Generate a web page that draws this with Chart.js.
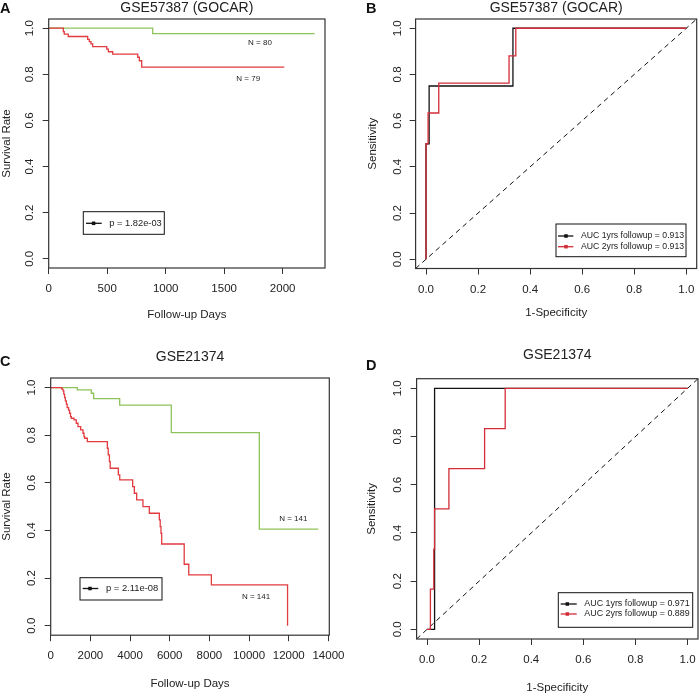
<!DOCTYPE html>
<html><head><meta charset="utf-8">
<script src="https://cdn.jsdelivr.net/npm/chart.js@4.4.1/dist/chart.umd.min.js"></script>
<style>
html,body{margin:0;padding:0;background:#fff;}
#wrap{position:relative;width:700px;height:695px;overflow:hidden;background:#fff;}
canvas{position:absolute;}
</style></head><body>
<div id="wrap">
<canvas id="cA" width="350" height="340" style="left:0;top:0"></canvas>
<canvas id="cB" width="350" height="340" style="left:350px;top:0"></canvas>
<canvas id="cC" width="350" height="355" style="left:0;top:340px"></canvas>
<canvas id="cD" width="350" height="355" style="left:350px;top:340px"></canvas>
</div>
<script>
// ---------- Data ----------
// Panel A: GSE57387 (GOCAR) Kaplan-Meier
const kmA_low_days  = [0, 889, 2273];
const kmA_low_surv  = [1, 0.977, 0.977];
const kmA_high_days = [0,125,133,167,333,347,361,376,496,510,547,761,775,795,2014];
const kmA_high_surv = [1,0.985,0.974,0.964,0.952,0.942,0.932,0.920,0.909,0.898,0.888,0.874,0.859,0.831,0.831];
const kmA_xTicks = [0,500,1000,1500,2000];
const kmA_labels = ['N = 80','N = 79'];
const kmA_pText = 'p = 1.82e-03';

// Panel B: GSE57387 (GOCAR) ROC
const rocB_1y_fpr = [0,0,0.012,0.334,1];
const rocB_1y_tpr = [0,0.5,0.75,1,1];
const rocB_2y_fpr = [0,0,0.008,0.049,0.319,0.345,1];
const rocB_2y_tpr = [0,0.5,0.633,0.762,0.880,1,1];
const rocB_legend = ['AUC 1yrs followup = 0.913','AUC 2yrs followup = 0.913'];

// Panel C: GSE21374 Kaplan-Meier
const kmC_low_days  = [0,1341,2047,2166,3478,6080,10517,13491];
const kmC_low_surv  = [1,0.990,0.976,0.953,0.926,0.811,0.405,0.405];
const kmC_high_days = [0,560,620,660,700,740,790,830,900,950,1000,1040,1175,1290,1376,1511,1628,1680,1712,1847,2855,2900,2960,3000,3409,3480,4132,4216,4334,4650,4971,5476,5520,5560,5595,6730,6960,8100,11940];
const kmC_high_surv = [1,0.993,0.986,0.972,0.958,0.944,0.930,0.916,0.905,0.892,0.878,0.871,0.864,0.850,0.836,0.822,0.808,0.794,0.787,0.773,0.745,0.717,0.689,0.661,0.633,0.612,0.584,0.556,0.528,0.500,0.472,0.444,0.416,0.388,0.343,0.258,0.213,0.171,0];
const kmC_xTicks = [0,2000,4000,6000,8000,10000,12000,14000];
const kmC_labels = ['N = 141','N = 141'];
const kmC_pText = 'p = 2.11e-08';

// Panel D: GSE21374 ROC
const rocD_1y_fpr = [0,0.029,1];
const rocD_1y_tpr = [0,1,1];
const rocD_2y_fpr = [0,0.013,0.026,0.029,0.084,0.221,0.300,1];
const rocD_2y_tpr = [0,0.167,0.333,0.5,0.667,0.833,1,1];
const rocD_legend = ['AUC 1yrs followup = 0.971','AUC 2yrs followup = 0.889'];

// shared
const survTicks = [0,0.2,0.4,0.6,0.8,1.0];
const rocTicks = [0,0.2,0.4,0.6,0.8,1.0];
const diagXY = [-0.04, 1.04];

// ---------- Styling ----------
const FONT = '"Liberation Sans", Arial, Helvetica, sans-serif';
Chart.defaults.font.family = FONT;
Chart.defaults.color = '#222';
const RED_KM = '#e23b40', GREEN_KM = '#8ec35a', RED_ROC = '#d22d38', BLACK = '#111';

const pts = (xs, ys) => xs.map((x, i) => ({x, y: ys[i]}));

const decor = {
  id: 'decor',
  afterDraw(chart, args, o) {
    const ctx = chart.ctx, a = chart.chartArea, ys = chart.scales.y, xs = chart.scales.x;
    ctx.save();
    ctx.strokeStyle = '#333'; ctx.lineWidth = 1.2;
    ctx.strokeRect(a.left, a.top, a.right - a.left, a.bottom - a.top);
    // rotated y tick labels (R style)
    ctx.fillStyle = '#222'; ctx.font = '11.5px ' + FONT;
    ctx.textAlign = 'center'; ctx.textBaseline = 'middle';
    ys.ticks.forEach(t => {
      const py = ys.getPixelForValue(t.value);
      ctx.save(); ctx.translate(a.left - o.yLabelOffset, py); ctx.rotate(-Math.PI / 2);
      ctx.fillText(t.value.toFixed(1), 0, 0); ctx.restore();
    });
    // panel letter
    ctx.font = 'bold 14.5px ' + FONT; ctx.textAlign = 'left'; ctx.textBaseline = 'alphabetic';
    ctx.fillStyle = '#111';
    ctx.fillText(o.letter, o.letterX, o.letterY);
    // notes in data coordinates
    if (o.notes) {
      ctx.font = '8px ' + FONT; ctx.textAlign = 'center'; ctx.textBaseline = 'middle'; ctx.fillStyle = '#222';
      o.notes.forEach(n => ctx.fillText(n.text, xs.getPixelForValue(n.x), ys.getPixelForValue(n.y)));
    }
    // legend box
    if (o.legend) {
      const L = o.legend;
      const rx = (L.anchor === 'right' ? a.right : a.left) + L.dx;
      const ry = a.bottom + L.dy;
      ctx.lineWidth = 1; ctx.strokeStyle = '#111';
      ctx.strokeRect(rx, ry, L.w, L.h);
      ctx.font = L.fontSize + 'px ' + FONT; ctx.textAlign = 'left'; ctx.textBaseline = 'middle';
      L.items.forEach((it, i) => {
        const yy = ry + L.row0 + i * L.rowGap;
        ctx.strokeStyle = it.color; ctx.lineWidth = 1.3;
        ctx.beginPath(); ctx.moveTo(rx + L.lx1, yy); ctx.lineTo(rx + L.lx2, yy); ctx.stroke();
        ctx.fillStyle = it.color; ctx.fillRect(rx + L.mx - 1.75, yy - 1.75, 3.5, 3.5);
        ctx.fillStyle = '#222'; ctx.fillText(it.label, rx + L.tx, yy);
      });
    }
    ctx.restore();
  }
};

function makePanel(id, cfg) {
  const c = document.getElementById(id);
  const W = c.width, H = c.height, A = cfg.area;
  const grid = {display: true, drawOnChartArea: false, drawTicks: true, tickLength: 6, color: '#333', lineWidth: 1};
  return new Chart(c, {
    type: 'line',
    data: {datasets: cfg.datasets},
    options: {
      responsive: false, animation: false, devicePixelRatio: 1,
      layout: {padding: {left: 0, top: 0, right: W - A.R, bottom: 0}},
      plugins: {
        legend: {display: false}, tooltip: {enabled: false},
        title: {display: true, text: cfg.title, fullSize: false, color: '#222',
                font: {size: 14, weight: 'normal', lineHeight: 1.2},
                padding: {top: cfg.titlePadTop, bottom: A.T - cfg.titlePadTop - 16.8}},
        decor: cfg.decor
      },
      scales: {
        x: {type: 'linear', min: cfg.xMin, max: cfg.xMax,
            afterBuildTicks: s => { s.ticks = cfg.xTicks.map(v => ({value: v})); },
            afterFit: s => { s.height = H - A.B; s.paddingLeft = 0; s.paddingRight = 0; },
            ticks: {callback: cfg.xFmt, font: {size: 11.5}, color: '#222', padding: 8, maxRotation: 0, minRotation: 0, autoSkip: false},
            grid: grid, border: {display: false},
            title: {display: true, text: cfg.xTitle, color: '#222', font: {size: 11.5, lineHeight: 1.2},
                    padding: {top: 0, bottom: cfg.xTitlePadBottom}}},
        y: {type: 'linear', min: -0.04, max: 1.04,
            afterBuildTicks: s => { s.ticks = cfg.yTicks.map(v => ({value: v})); },
            afterFit: s => { s.width = A.L; s.paddingTop = 0; s.paddingBottom = 0; },
            ticks: {display: false},
            grid: grid, border: {display: false},
            title: {display: true, text: cfg.yTitle, color: '#222', font: {size: 11.5, lineHeight: 1.2},
                    padding: {top: cfg.yTitlePad, bottom: 0}}}
      }
    },
    plugins: [decor]
  });
}

const lineDS = (data, color, order, extra) => Object.assign({
  data, borderColor: color, backgroundColor: color, borderWidth: 1.3, pointRadius: 0,
  stepped: 'before', fill: false, tension: 0, order
}, extra || {});
const diagDS = () => ({data: pts(diagXY, diagXY), borderColor: '#111', borderWidth: 1, borderDash: [5, 4],
  pointRadius: 0, fill: false, tension: 0, order: 5});

const kmFmt = v => String(v);
const rocFmt = v => v.toFixed(1);

makePanel('cA', {
  area: {L: 48.7, T: 19, R: 325, B: 268},
  title: 'GSE57387 (GOCAR)', titlePadTop: 0,
  xMin: 0, xMax: 2362, xTicks: kmA_xTicks, xFmt: kmFmt, yTicks: survTicks,
  xTitle: 'Follow-up Days', xTitlePadBottom: 18.4,
  yTitle: 'Survival Rate', yTitlePad: 0,
  datasets: [lineDS(pts(kmA_low_days, kmA_low_surv), GREEN_KM, 1), lineDS(pts(kmA_high_days, kmA_high_surv), RED_KM, 0)],
  decor: {letter: 'A', letterX: 0, letterY: 13, yLabelOffset: 19,
    notes: [{text: kmA_labels[0], x: 1806, y: 0.9375}, {text: kmA_labels[1], x: 1706, y: 0.78}],
    legend: {anchor: 'left', dx: 34.6, dy: -56.3, w: 81, h: 22.6, row0: 11.6, rowGap: 0,
             lx1: 2.7, lx2: 18.4, mx: 10.3, tx: 26, fontSize: 9.3,
             items: [{label: kmA_pText, color: BLACK}]}}
});

makePanel('cB', {
  area: {L: 65.6, T: 19, R: 346.7, B: 268.5},
  title: 'GSE57387 (GOCAR)', titlePadTop: 0,
  xMin: -0.04, xMax: 1.04, xTicks: rocTicks, xFmt: rocFmt, yTicks: rocTicks,
  xTitle: '1-Specificity', xTitlePadBottom: 19.8,
  yTitle: 'Sensitivity', yTitlePad: 15.6,
  datasets: [lineDS(pts(rocB_1y_fpr, rocB_1y_tpr), BLACK, 1), lineDS(pts(rocB_2y_fpr, rocB_2y_tpr), RED_ROC, 0), diagDS()],
  decor: {letter: 'B', letterX: 16, letterY: 13, yLabelOffset: 18,
    legend: {anchor: 'right', dx: -140.7, dy: -44.5, w: 130, h: 32.7, row0: 12, rowGap: 10.7,
             lx1: 2, lx2: 17.3, mx: 10, tx: 25, fontSize: 8.7,
             items: [{label: rocB_legend[0], color: BLACK}, {label: rocB_legend[1], color: RED_ROC}]}}
});

makePanel('cC', {
  area: {L: 50.7, T: 38, R: 329.3, B: 295.2},
  title: 'GSE21374', titlePadTop: 8.3,
  xMin: 0, xMax: 14044, xTicks: kmC_xTicks, xFmt: kmFmt, yTicks: survTicks,
  xTitle: 'Follow-up Days', xTitlePadBottom: 4.3,
  yTitle: 'Survival Rate', yTitlePad: 0,
  datasets: [lineDS(pts(kmC_low_days, kmC_low_surv), GREEN_KM, 1), lineDS(pts(kmC_high_days, kmC_high_surv), RED_KM, 0)],
  decor: {letter: 'C', letterX: 0, letterY: 25.5, yLabelOffset: 19,
    notes: [{text: kmC_labels[0], x: 12230, y: 0.448}, {text: kmC_labels[1], x: 10349, y: 0.122}],
    legend: {anchor: 'left', dx: 29.3, dy: -57.5, w: 82, h: 22.3, row0: 10.8, rowGap: 0,
             lx1: 2.7, lx2: 18.3, mx: 10, tx: 26, fontSize: 9.4,
             items: [{label: kmC_pText, color: BLACK}]}}
});

makePanel('cD', {
  area: {L: 66.6, T: 38.7, R: 348, B: 299},
  title: 'GSE21374', titlePadTop: 6.9,
  xMin: -0.04, xMax: 1.04, xTicks: rocTicks, xFmt: rocFmt, yTicks: rocTicks,
  xTitle: '1-Specificity', xTitlePadBottom: 0,
  yTitle: 'Sensitivity', yTitlePad: 15.1,
  datasets: [lineDS(pts(rocD_1y_fpr, rocD_1y_tpr), BLACK, 1), lineDS(pts(rocD_2y_fpr, rocD_2y_tpr), RED_ROC, 0), diagDS()],
  decor: {letter: 'D', letterX: 16, letterY: 29.5, yLabelOffset: 18.4,
    legend: {anchor: 'right', dx: -139.7, dy: -46.3, w: 134.4, h: 34.6, row0: 11.3, rowGap: 10,
             lx1: 2.4, lx2: 18.4, mx: 9, tx: 26, fontSize: 8.9,
             items: [{label: rocD_legend[0], color: BLACK}, {label: rocD_legend[1], color: RED_ROC}]}}
});
</script>
</body></html>
